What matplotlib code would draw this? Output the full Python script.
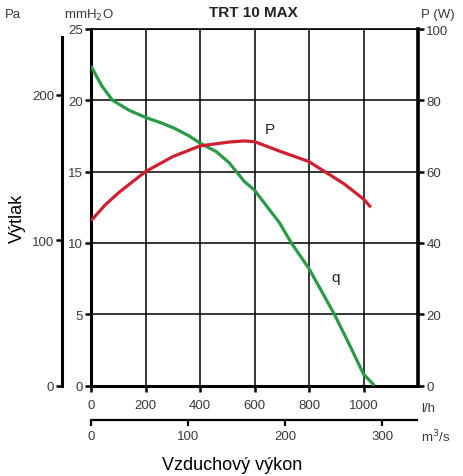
import numpy as np
import matplotlib.pyplot as plt

plt.rcParams['font.family'] = ['Liberation Sans', 'DejaVu Sans']

# data
flow_q = [0, 40, 79, 140, 200, 260, 305, 360, 400, 460, 508, 563, 600, 692, 735, 800, 893, 950, 1000, 1040]
press_q = [22.4, 21.0, 20.0, 19.3, 18.8, 18.4, 18.05, 17.5, 17.0, 16.4, 15.6, 14.3, 13.7, 11.4, 10.0, 8.2, 5.0, 2.8, 0.8, 0.0]

flow_p = [0, 50, 100, 200, 300, 400, 508, 563, 600, 690, 800, 862, 930, 1000, 1027]
power_p = [46.2, 50.5, 54.0, 60.0, 64.2, 67.2, 68.3, 68.6, 68.4, 65.8, 62.8, 59.8, 56.5, 52.3, 50.0]

lh_ticks = [0, 200, 400, 600, 800, 1000]
mm_ticks = [0, 5, 10, 15, 20, 25]
pa_ticks = [0, 100, 200]
w_ticks = [0, 20, 40, 60, 80, 100]
m3_ticks = [0, 100, 200, 300]
lh_per_m3 = 3.56

tick_col = '#3a3a3a'
green = '#2a9a48'
red = '#cf1f30'
fs = 9.5

fig = plt.figure(figsize=(4.63, 4.77), dpi=100)
ax = fig.add_axes([91/463, 1 - 386.5/477, 327/463, 356.5/477])

ax.plot(flow_q, press_q, color=green, lw=2.3, solid_capstyle='butt', zorder=3)
ax.set_xlim(0, 1200)
ax.set_ylim(0, 25)
ax.set_xticks(lh_ticks)
ax.set_yticks(mm_ticks)
ax.grid(True, color='black', lw=1.1)
ax.tick_params(colors='black', labelcolor=tick_col, labelsize=fs, width=1.8, length=4, direction='out', pad=2)
ax.tick_params(axis='x', pad=6)
for s in ['left', 'bottom']:
    ax.spines[s].set_linewidth(2.2)
ax.spines['top'].set_linewidth(1.2)
ax.spines['right'].set_visible(False)

# power axis on the right
axp = ax.twinx()
axp.plot(flow_p, power_p, color=red, lw=2.3, solid_capstyle='butt', zorder=3)
axp.set_ylim(0, 100)
axp.set_yticks(w_ticks)
axp.tick_params(colors='black', labelcolor=tick_col, labelsize=fs, width=1.8, length=4, pad=2)
axp.spines['right'].set_linewidth(2.6)
for s in ['left', 'top', 'bottom']:
    axp.spines[s].set_visible(False)

# Pa axis, offset to the left
axpa = ax.twinx()
axpa.set_ylim(0, 25 * 9.81)
axpa.yaxis.set_ticks_position('left')
axpa.yaxis.set_label_position('left')
axpa.spines['left'].set_position(('outward', 21))
axpa.spines['left'].set_bounds(0, 240)
axpa.spines['left'].set_linewidth(2.2)
for s in ['right', 'top', 'bottom']:
    axpa.spines[s].set_visible(False)
axpa.set_yticks(pa_ticks)
axpa.tick_params(colors='black', labelcolor=tick_col, labelsize=fs, width=1.8, length=4, pad=1.5)

# second flow axis below
axm = ax.twiny()
axm.set_xlim(0, 1200 / lh_per_m3)
axm.xaxis.set_ticks_position('bottom')
axm.spines['bottom'].set_position(('outward', 25))
axm.spines['bottom'].set_bounds(0, 1195 / lh_per_m3)
axm.spines['bottom'].set_linewidth(1.6)
for s in ['left', 'right', 'top']:
    axm.spines[s].set_visible(False)
axm.set_xticks(m3_ticks)
axm.tick_params(colors='black', labelcolor=tick_col, labelsize=fs, width=1.6, length=4, pad=3)

# labels
fig.text(253/463, 1 - 13/477, 'TRT 10 MAX', ha='center', va='center', fontsize=11, fontweight='bold', color='#222222')
fig.text(13/463, 1 - 15/477, 'Pa', ha='center', va='center', fontsize=fs, color=tick_col)
fig.text(89/463, 1 - 15/477, 'mmH$_2$O', ha='center', va='center', fontsize=fs, color=tick_col)
fig.text(438/463, 1 - 15/477, 'P (W)', ha='center', va='center', fontsize=fs, color=tick_col)
fig.text(428/463, 1 - 409/477, 'l/h', ha='center', va='center', fontsize=fs, color=tick_col)
fig.text(436/463, 1 - 437/477, 'm$^3$/s', ha='center', va='center', fontsize=fs, color=tick_col)
fig.text(232/463, 1 - 466/477, 'Vzduchový výkon', ha='center', va='center', fontsize=13, color='black')
fig.text(17/463, 1 - 218/477, 'Výtlak', ha='center', va='center', fontsize=13, rotation=90, color='black')
ax.text(655, 18.0, 'P', fontsize=11, color='#222222', ha='center', va='center')
ax.text(897, 7.6, 'q', fontsize=11, color='#222222', ha='center', va='center')

fig.savefig('out.png', dpi=100)
